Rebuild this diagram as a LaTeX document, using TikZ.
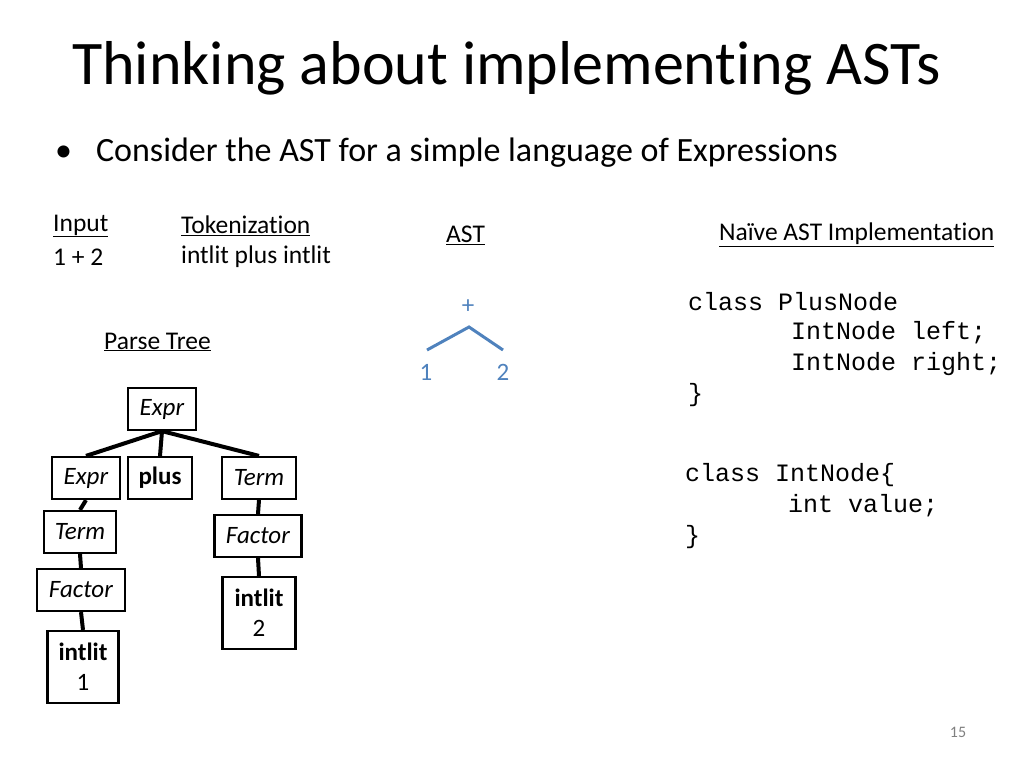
\documentclass[tikz,border=0pt]{standalone}
\usepackage{fontspec}
\setmainfont{Carlito}[Ligatures=NoCommon]
\setmonofont{Liberation Mono}
\usetikzlibrary{positioning}
\definecolor{CastB}{rgb}{0.31,0.51,0.74}
\tikzset{
ptbox/.style={draw, line width=2.2pt, minimum height=42pt, inner sep=2pt, font=\fontsize{25}{30}\selectfont},
ptedge/.style={line width=4pt},
lbl/.style={anchor=west, inner sep=0pt, font=\fontsize{25.5}{30}\selectfont},
codeline/.style={anchor=west, inner sep=0pt, font=\fontsize{25}{30}\ttfamily},
}
\begin{document}
\begin{tikzpicture}[x=1pt,y=-1pt]
\useasboundingbox (0,0) rectangle (1024,768);

%% Title and bullet
\node[anchor=west, inner sep=0pt, font=\fontsize{62}{70}\selectfont] (title) at (72,68) {Thinking about implementing ASTs};
\node[anchor=west, inner sep=0pt, font=\fontsize{34}{40}\selectfont] (bullet) at (55,153) {\textbullet\hspace{24pt}Consider the AST for a simple language of Expressions};

%% Headings
\node[lbl] (input) at (53,226) {\underline{Input}};
\node[lbl] (inval) at (53,257) {1 + 2};
\node[lbl] (tok) at (181,226) {\underline{Tokenization}};
\node[lbl] (tokval) at (181,257) {intlit plus intlit};
\node[lbl] (asthead) at (446,235) {\underline{AST}};
\node[lbl] (impl) at (719,235) {\underline{Naïve AST Implementation}};
\node[lbl] (pthead) at (104,342) {\underline{Parse Tree}};

%% Parse tree
\node[ptbox, minimum width=68pt] (expr) at (162,409) {\textit{Expr}};
\node[ptbox, minimum width=68pt] (exprL) at (86,478) {\textit{Expr}};
\node[ptbox, minimum width=64pt] (plus) at (160,478) {\textbf{plus}};
\node[ptbox, minimum width=74pt] (termR) at (259,478) {\textit{Term}};
\node[ptbox, minimum width=72pt] (termL) at (80,532) {\textit{Term}};
\node[ptbox, minimum width=87pt] (factR) at (258,536) {\textit{Factor}};
\node[ptbox, minimum width=88pt] (factL) at (81,590) {\textit{Factor}};
\node[ptbox, text width=67pt, minimum height=72pt, align=center] (lit1) at (83,667) {\textbf{intlit}\\1};
\node[ptbox, text width=69pt, minimum height=72pt, align=center] (lit2) at (259,613) {\textbf{intlit}\\2};

\draw[ptedge] (expr.south) -- (exprL.north);
\draw[ptedge] (expr.south) -- (plus.north);
\draw[ptedge] (expr.south) -- (termR.north);
\draw[ptedge] (exprL.south) -- (termL.north);
\draw[ptedge] (termL.south) -- (factL.north);
\draw[ptedge] (factL.south) -- (lit1.north);
\draw[ptedge] (termR.south) -- (factR.north);
\draw[ptedge] (factR.south) -- (lit2.north);

%% AST
\node[text=CastB, font=\fontsize{25}{30}\selectfont] (aplus) at (468,307) {+};
\node[text=CastB, font=\fontsize{25}{30}\selectfont] (aone) at (426,372) {1};
\node[text=CastB, font=\fontsize{25}{30}\selectfont] (atwo) at (503,372) {2};
\coordinate (atop) at (469,327);
\coordinate (aleft) at (427,350);
\coordinate (aright) at (503,350);
\draw[CastB, line width=3pt] (aleft) -- (atop) -- (aright);

%% Code
\node[codeline] (c1) at (688,302) {class PlusNode};
\node[codeline] (c2) at (791,333) {IntNode left;};
\node[codeline] (c3) at (791,364) {IntNode right;};
\node[codeline] (c4) at (688,395) {\}};
\node[codeline] (c5) at (685,475) {class IntNode\{};
\node[codeline] (c6) at (788,506) {int value;};
\node[codeline] (c7) at (685,537) {\}};

\node[text=gray, font=\fontsize{16}{18}\selectfont] (pgno) at (958,732) {15};
\end{tikzpicture}
\end{document}
